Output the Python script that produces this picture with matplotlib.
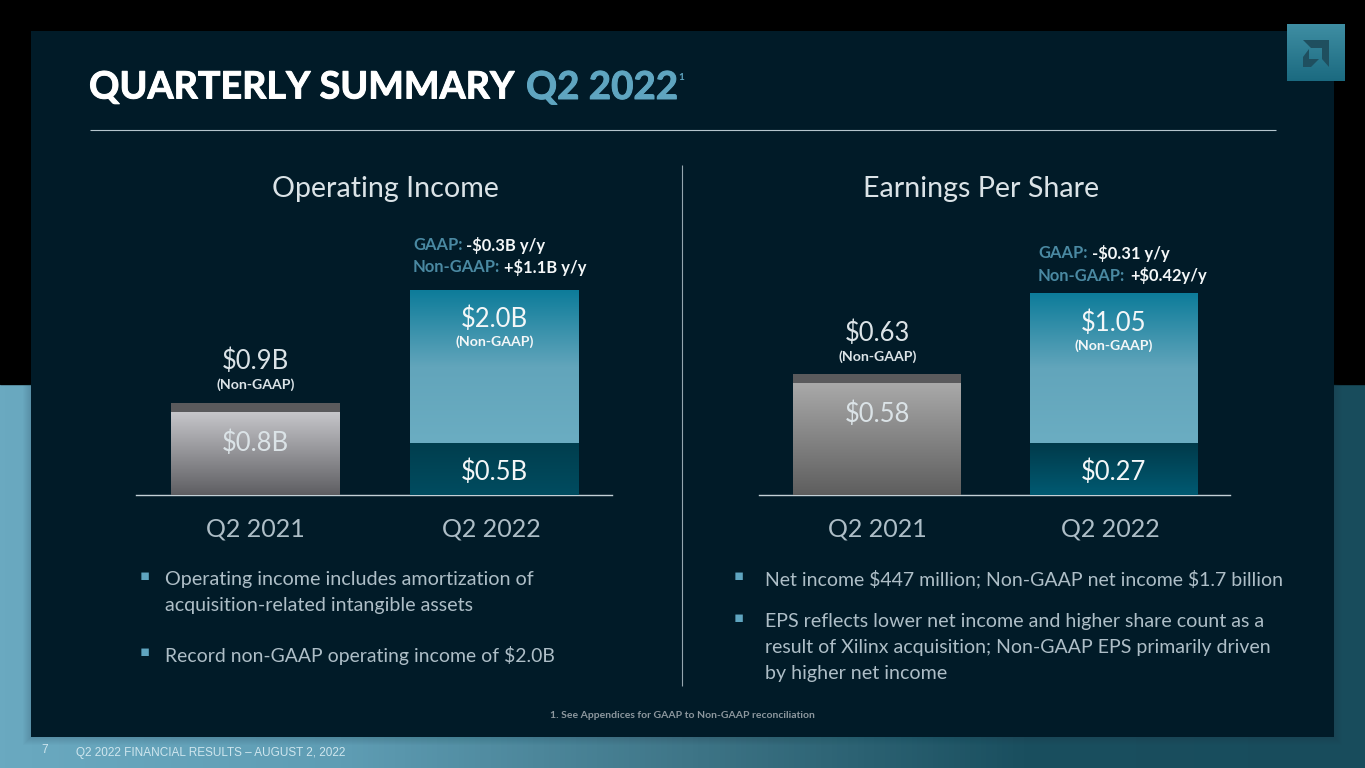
import numpy as np
import matplotlib
matplotlib.use("Agg")
import matplotlib.pyplot as plt
import matplotlib.patheffects as pe
from matplotlib.colors import LinearSegmentedColormap
from matplotlib.patches import Polygon, Rectangle
from matplotlib.transforms import ScaledTranslation

W, H = 1365, 768

# chart values
quarters = ["Q2 2021", "Q2 2022"]
income_gaap = [0.8, 0.5]
income_non_gaap = [0.9, 2.0]
eps_gaap = [0.58, 0.27]
eps_non_gaap = [0.63, 1.05]

income_gaap_labels = ["$0.8B", "$0.5B"]
income_non_gaap_labels = ["$0.9B", "$2.0B"]
eps_gaap_labels = ["$0.58", "$0.27"]
eps_non_gaap_labels = ["$0.63", "$1.05"]

plt.rcParams['font.family'] = ['Lato', 'DejaVu Sans']
plt.rcParams['text.parse_math'] = False

BODY = "#aebec7"
HEAD = "#dbe3e7"
WHITE = "#f4f7f8"
TEAL = "#4a89a2"


def px(size):
    # font size given in pixels
    return size * 0.72


def grad(colors, horizontal=False):
    cmap = LinearSegmentedColormap.from_list("g", colors)
    g = np.linspace(0, 1, 256)
    g = g.reshape(1, -1) if horizontal else g.reshape(-1, 1)
    return g, cmap


fig = plt.figure(figsize=(W / 100, H / 100), dpi=100, facecolor="black")

# slide background, in pixel coordinates
bg = fig.add_axes([0, 0, 1, 1])
bg.set_xlim(0, W)
bg.set_ylim(H, 0)
bg.axis("off")

g, cmap = grad(["#6aa9c0", "#5f9db4", "#3f7688", "#1a4f5f", "#184c5c"], horizontal=True)
bg.imshow(g, cmap=cmap, extent=[0, W, H, 384], aspect="auto")
bg.add_patch(Rectangle((0, 0), W, 384, color="black", zorder=1))

# soft shadow round the panel, below the black band only
for i in range(9):
    bg.add_patch(Rectangle((31 - i, 384), 1303 + 2 * i, 353 + i, color="#1b3a48",
                           alpha=0.025, lw=0, zorder=2))
bg.add_patch(Rectangle((31, 31), 1303, 706, color="#011b28", lw=0, zorder=3))

# logo
g, cmap = grad(["#1b6a80", "#3f8ea3"])
bg.imshow(g, cmap=cmap, extent=[1287, 1345, 81, 24], aspect="auto", zorder=4, origin="lower")
logo_dark = "#1f4f5f"
bg.add_patch(Polygon([(1303, 40), (1329, 40), (1329, 67), (1322, 59), (1322, 48), (1311, 48)],
                     color=logo_dark, lw=0, zorder=5))
bg.add_patch(Polygon([(1309, 49), (1303, 57), (1303, 67), (1311, 67), (1319, 59), (1309, 59)],
                     color=logo_dark, lw=0, zorder=5))
bg.set_xlim(0, W)
bg.set_ylim(H, 0)

# title
heavy = [pe.withStroke(linewidth=0.7, foreground="white")]
heavy_teal = [pe.withStroke(linewidth=0.7, foreground="#5fa5c0")]
bg.text(89, 87.5, "QUARTERLY SUMMARY", color="white", fontsize=px(37.7), fontweight="bold",
        va="center", zorder=6, path_effects=heavy)
bg.text(526, 87.5, "Q2 2022", color="#5fa5c0", fontsize=px(38.5), fontweight="bold",
        va="center", zorder=6, path_effects=heavy_teal)
bg.text(678, 78, "1", color="#5fa5c0", fontsize=px(10), fontweight="bold", va="center", zorder=6)
bg.plot([89.5, 1275.5], [130, 130], color="#b5c5cd", lw=0.8, zorder=6, solid_capstyle="butt")
bg.plot([682, 682], [165, 686], color="#95a6af", lw=0.8, zorder=6, solid_capstyle="butt")

# panel headings
bg.text(385, 189, "Operating Income", color=HEAD, fontsize=px(28.6), ha="center", va="center", zorder=6)
bg.text(981, 189, "Earnings Per Share", color=HEAD, fontsize=px(28.6), ha="center", va="center", zorder=6)


def draw_panel(rect, ylim, gaap, non_gaap, gaap_labels, non_gaap_labels, grey_top, grey_bottom,
               dark_top, dark_bottom, width, tick_shift):
    left, right, base = rect
    height = ylim[1]
    ax = fig.add_axes([left / W, (H - base) / H, (right - left) / W, height / H])
    ax.patch.set_alpha(0)
    x = np.arange(len(quarters))
    ax.bar(x, non_gaap, width=width, color=["#5a5a5c", "#0e7d9b"], zorder=2)
    ax.bar(x, gaap, width=width, color=[grey_bottom, dark_bottom], zorder=3)

    # gradient fills on top of the bars
    g, cmap = grad([grey_bottom, grey_top])
    ax.imshow(g, cmap=cmap, origin="lower", aspect="auto", zorder=3.5,
              extent=[x[0] - width / 2, x[0] + width / 2, 0, gaap[0]])
    g, cmap = grad(["#6badc2", "#62a5bb", "#0d7c9a"])
    ax.imshow(g, cmap=cmap, origin="lower", aspect="auto", zorder=2.5,
              extent=[x[1] - width / 2, x[1] + width / 2, gaap[1], non_gaap[1]])
    g, cmap = grad([dark_bottom, dark_top])
    ax.imshow(g, cmap=cmap, origin="lower", aspect="auto", zorder=3.5,
              extent=[x[1] - width / 2, x[1] + width / 2, 0, gaap[1]])

    ax.set_xlim(-0.5, 1.5)
    ax.set_ylim(0, ylim[0])
    ax.set_xticks(x)
    ax.set_xticklabels(quarters, fontsize=px(25), color=BODY)
    ax.tick_params(axis="x", length=0, pad=16)
    # the second category label sits a little left of its bar
    lab = ax.get_xticklabels()[1]
    lab.set_transform(lab.get_transform() + ScaledTranslation(tick_shift / 100, 0, fig.dpi_scale_trans))
    ax.set_yticks([])
    for s in ["top", "left", "right"]:
        ax.spines[s].set_visible(False)
    ax.spines["bottom"].set_color("#c3d0d6")
    ax.spines["bottom"].set_linewidth(1.0)
    ax.spines["bottom"].set_bounds(-0.5, 1.49)

    unit = height / ylim[0]  # pixels per data unit
    ax.text(0, gaap[0] - 30 / unit, gaap_labels[0], color=HEAD, fontsize=px(25.6),
            ha="center", va="center", zorder=5)
    ax.text(1, gaap[1] / 2 - 3 / unit, gaap_labels[1], color=WHITE, fontsize=px(25.6),
            ha="center", va="center", zorder=5)
    ax.text(0, non_gaap[0] + 41 / unit, non_gaap_labels[0], color=HEAD, fontsize=px(25.6),
            ha="center", va="center", zorder=5)
    ax.text(0, non_gaap[0] + 18 / unit, "(Non-GAAP)", color=HEAD, fontsize=px(14.1), fontweight="bold",
            ha="center", va="center", zorder=5)
    ax.text(1, non_gaap[1] - 29 / unit, non_gaap_labels[1], color=WHITE, fontsize=px(25.6),
            ha="center", va="center", zorder=5)
    ax.text(1, non_gaap[1] - 52 / unit, "(Non-GAAP)", color=WHITE, fontsize=px(14.1), fontweight="bold",
            ha="center", va="center", zorder=5)
    return ax


draw_panel((136, 614, 495), (2.2, 225.6), income_gaap, income_non_gaap, income_gaap_labels,
           income_non_gaap_labels, "#c6c6ca", "#5e5e62", "#003e4e", "#004c60", 0.707, -3.5)
draw_panel((759, 1232, 495), (1.15, 220.3), eps_gaap, eps_non_gaap, eps_gaap_labels,
           eps_non_gaap_labels, "#a9a9a9", "#5e5e5e", "#003a4a", "#005a72", 0.71, -3.5)

# y/y callouts
for tx, ty, head, val, vx in [
    (413, 245, "GAAP:", "-$0.3B y/y", 466),
    (413, 267, "Non-GAAP:", "+$1.1B y/y", 504),
    (1038, 253, "GAAP:", "-$0.31 y/y", 1092),
    (1038, 276, "Non-GAAP:", "+$0.42y/y", 1130),
]:
    bg.text(tx, ty, head, color=TEAL, fontsize=px(16.5), fontweight="bold", va="center", zorder=6)
    bg.text(vx, ty, val, color=WHITE, fontsize=px(16.5), fontweight="bold", va="center", zorder=6)

# bullets
left_notes = [(140, 165, 579.5, "Operating income includes amortization of", True, 19.8),
              (140, 165, 605.5, "acquisition-related intangible assets", False, 19.7),
              (140, 165, 655.5, "Record non-GAAP operating income of $2.0B", True, 19.4)]
right_notes = [(734, 765, 579.5, "Net income $447 million; Non-GAAP net income $1.7 billion", True, 19.55),
               (734, 765, 621.5, "EPS reflects lower net income and higher share count as a", True, 19.7),
               (734, 765, 647.5, "result of Xilinx acquisition; Non-GAAP EPS primarily driven", False, 19.5),
               (734, 765, 673.5, "by higher net income", False, 19.6)]
for bx, tx, ty, line, first, size in left_notes + right_notes:
    if first:
        bg.text(bx, ty - 3.5, "▪", color="#5fa5c0", fontsize=px(15), family="DejaVu Sans",
                va="center", zorder=6)
    bg.text(tx, ty, line, color=BODY, fontsize=px(size), va="center", zorder=6)

# footnote and footer
bg.text(682, 716, "1. See Appendices for GAAP to Non-GAAP reconciliation", color="#8c979e",
        fontsize=px(10.35), fontweight="bold", ha="center", va="center", zorder=6)
bg.text(41, 750, "7", color="#cfe6ee", fontsize=px(11.7), family="Liberation Sans", va="center", zorder=6)
bg.text(75.5, 753, "Q2 2022 FINANCIAL RESULTS – AUGUST 2, 2022", color="#cfe6ee", fontsize=px(11.7),
        family="Liberation Sans", va="center", zorder=6)

fig.savefig("out.png", dpi=100, facecolor="black")
